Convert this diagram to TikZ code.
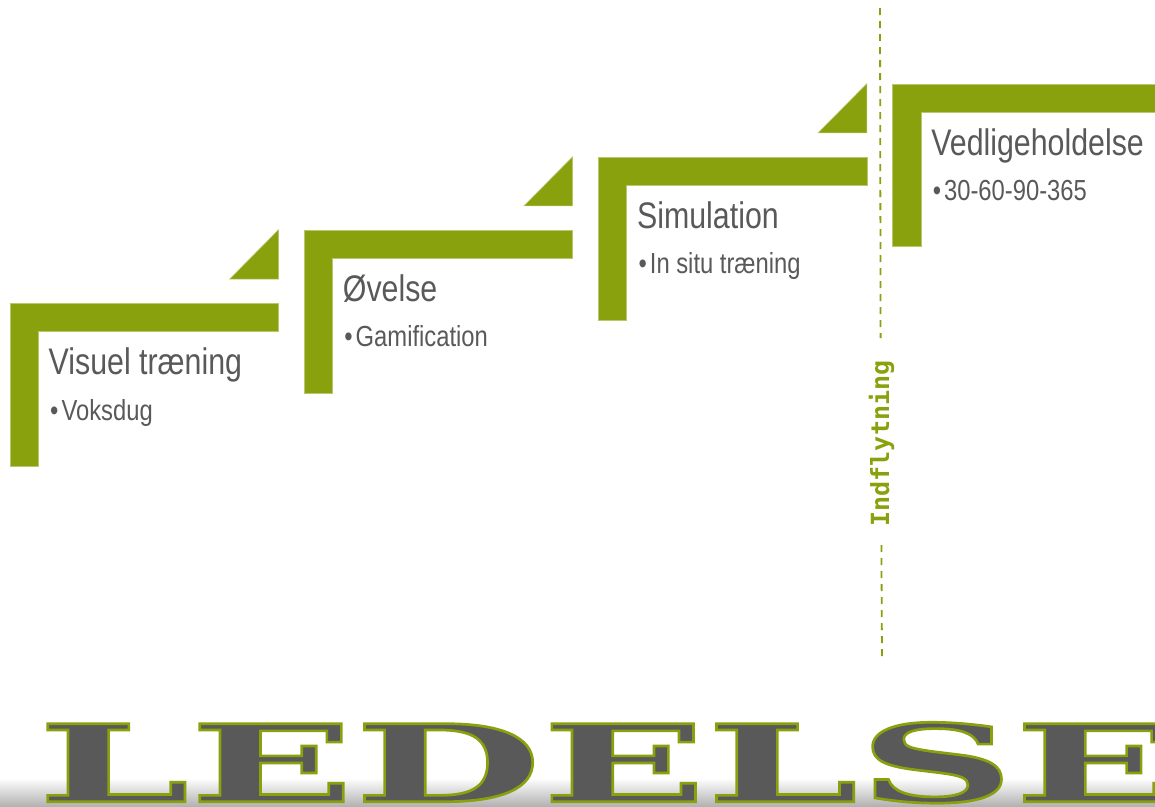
\documentclass[tikz,border=0pt]{standalone}
\usepackage{fontspec}
\usepackage{graphicx}
\setmainfont{Liberation Sans}
\newfontfamily\narrowsans[FakeStretch=0.82]{Liberation Sans}
\newfontfamily\monofam{DejaVu Sans Mono}
\newfontfamily\wideserif[FakeStretch=2.02,FakeBold=2.5]{DejaVu Serif}
\definecolor{olivegreen}{RGB}{138,161,14}
\definecolor{oliveedge}{RGB}{185,200,110}
\definecolor{textgray}{RGB}{89,89,89}
\newcommand\olivestroke{\special{pdf:literal direct 0.541 0.631 0.055 RG}}
\begin{document}
\begin{tikzpicture}[x=1pt,y=-1pt,
  stepfill/.style={fill=olivegreen,draw=oliveedge,line width=0.5pt},
  steptitle/.style={anchor=base west,inner sep=0pt,text=textgray,font=\narrowsans\fontsize{37}{40}\selectfont},
  stepbullet/.style={anchor=base west,inner sep=0pt,text=textgray,font=\narrowsans\fontsize{29}{31}\selectfont},
  divider/.style={draw=olivegreen,line width=1.8pt,dash pattern=on 7pt off 6pt},
  dividerlabel/.style={rotate=90,inner sep=0pt,text=olivegreen,font=\monofam\bfseries\fontsize{25}{25}\selectfont},
  bigword/.style={anchor=base west,inner sep=0pt,text=textgray,font=\wideserif\bfseries\fontsize{107}{110}\selectfont}]
\useasboundingbox (0,0) rectangle (1155,806);
% shadow under the word
\shade[top color=white,bottom color=black!30] (0,778) rectangle (1155,806);
% steps
\foreach \i/\ttl/\bul/\w in {0/{Visuel træning}/{Voksdug}/268.5,1/{Øvelse}/{Gamification}/268.5,2/{Simulation}/{In situ træning}/268.5,3/{Vedligeholdelse}/{30-60-90-365}/262.4}{
  \pgfmathsetmacro\lx{10+294.2*\i}
  \pgfmathsetmacro\ty{303.3-73.1*\i}
  \path[stepfill] (\lx,\ty) -- ++(\w,0) -- ++(0,28.3) -- ({\lx+28.3},{\ty+28.3}) -- ({\lx+28.3},{\ty+162.7}) -- (\lx,{\ty+162.7}) -- cycle;
  \ifnum\i<3
    \path[stepfill] ({\lx+\w},{\ty-24.3}) -- ++(0,-49.2) -- ++(-48.8,49.2) -- cycle;
  \fi
  \node[steptitle] (title\i) at ({\lx+38.5},{\ty+71}) {\ttl};
  \node[stepbullet] (item\i) at ({\lx+40},{\ty+116.7}) {•\kern3pt\bul};
}
% divider
\coordinate (divtop) at (880,8);
\coordinate (gaptop) at (880.6,338);
\coordinate (gapbot) at (881.4,545);
\coordinate (divbot) at (882,660);
\node[dividerlabel] (move) at (881.5,443.5) {Indflytning};
\draw[divider] (divtop) -- (gaptop);
\draw[divider] (gapbot) -- (divbot);
% big word with outline
\node[bigword] (ledelse) at (37.5,801.7) {\olivestroke LEDELSE};
\end{tikzpicture}
\end{document}
